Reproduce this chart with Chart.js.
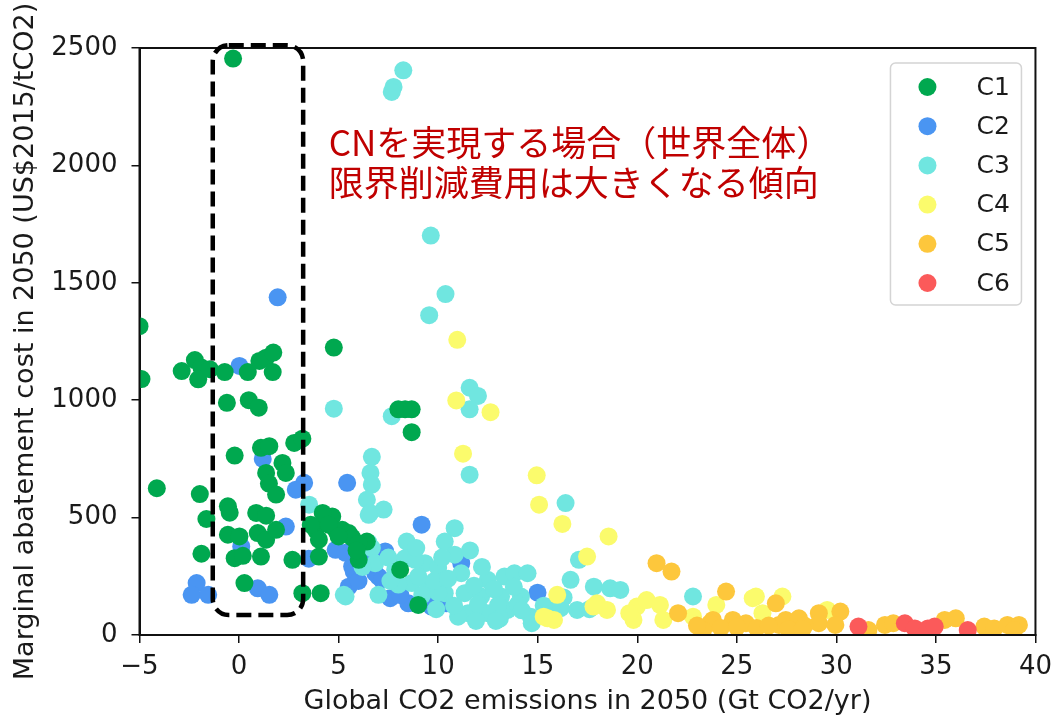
<!DOCTYPE html>
<html lang="ja">
<head>
<meta charset="UTF-8">
<title>限界削減費用とCO2排出量（2050年）</title>
<script src="https://cdn.jsdelivr.net/npm/chart.js"></script>
<style>
  html, body { margin: 0; padding: 0; background: #fff; }
</style>
</head>
<body>
<canvas id="myChart" width="1061" height="718"></canvas>
<script>
// Kategorien und Farben
const categories = ['C1', 'C2', 'C3', 'C4', 'C5', 'C6'];
const colors = ['#00a84f', '#4a95f2', '#70e6e0', '#fbfb6c', '#fdc73c', '#fb5a5a'];

// Achsen
const xTicks = [-5, 0, 5, 10, 15, 20, 25, 30, 35, 40];
const yTicks = [0, 500, 1000, 1500, 2000, 2500];

// Punkte [Emissionen Gt CO2/yr, Kosten US$/tCO2]
const c1Points = [
  [-0.3, 2455], [-5.0, 1315], [-4.9, 1090], [-2.88, 1124], [-2.22, 1171], [-1.89, 1139],
  [-2.05, 1089], [-1.47, 1132], [-0.72, 1120], [0.44, 1120], [1.02, 1167], [1.36, 1181],
  [1.72, 1203], [1.69, 1120], [4.76, 1224], [-0.61, 989], [0.49, 1000], [0.99, 968],
  [-0.22, 764], [1.1, 797], [1.52, 804], [2.77, 818], [3.18, 836], [1.36, 690], [2.18, 733],
  [1.5, 645], [2.35, 690], [1.86, 598], [-4.13, 625], [-1.97, 600], [-1.64, 494], [-0.56, 548],
  [-0.47, 521], [0.86, 520], [1.36, 508], [-0.56, 427], [0.02, 420], [0.94, 434], [1.36, 406],
  [1.86, 448], [-1.89, 346], [-0.22, 327], [0.19, 337], [1.1, 334], [2.68, 320], [4.01, 334],
  [0.27, 221], [3.18, 178], [4.1, 178], [3.85, 448], [4.35, 477], [4.68, 505], [4.85, 448],
  [5.18, 448], [5.51, 434], [5.68, 415], [4.01, 406], [6.42, 398], [6.01, 320], [4.2, 520],
  [8.09, 278], [9.0, 128], [8.0, 961], [8.34, 961], [8.67, 961], [8.67, 864],
  [4.5, 470], [5.0, 420], [6.0, 390], [3.6, 470], [5.9, 360]
];
const c2Points = [
  [1.94, 1438], [0.02, 1146], [1.19, 750], [3.27, 648], [5.43, 648], [2.85, 619], [2.35, 462],
  [0.11, 377], [-2.13, 221], [-2.38, 171], [-1.55, 171], [0.94, 199], [1.52, 171], [4.85, 363],
  [5.68, 292], [9.17, 470], [5.76, 270], [5.51, 206], [7.0, 249], [7.59, 157], [7.34, 356],
  [8.5, 135], [9.67, 121], [11.16, 306], [14.99, 180], [10.41, 135], [6.84, 263], [7.17, 235],
  [3.5, 325], [5.35, 350], [6.3, 330], [7.9, 300], [8.1, 170], [9.2, 150], [6.0, 230]
];
const c3Points = [
  [8.25, 2405], [7.76, 2334], [7.67, 2313], [9.63, 1701], [10.37, 1452], [9.55, 1362],
  [11.58, 1053], [12.0, 1018], [11.58, 961], [6.67, 759], [6.6, 690], [6.67, 640], [11.58, 683],
  [4.76, 964], [7.67, 932], [6.42, 576], [6.59, 520], [7.26, 534], [16.4, 562], [17.07, 320],
  [16.65, 235], [17.82, 206], [18.64, 199], [19.15, 192], [16.15, 114], [16.98, 107], [22.8, 164],
  [3.52, 555], [5.35, 164], [10.83, 455], [10.33, 398], [8.42, 398], [6.67, 370], [6.84, 306],
  [8.34, 327], [9.34, 306], [10.0, 285], [10.83, 342], [11.16, 263], [8.67, 221], [9.5, 206],
  [10.33, 178], [11.33, 178], [12.49, 235], [13.33, 249], [13.83, 263], [14.49, 263], [12.16, 164],
  [13.16, 164], [14.16, 164], [11.5, 93], [12.49, 93], [13.49, 107], [14.65, 78], [7.0, 171],
  [5.26, 171], [6.51, 392], [7.84, 278], [8.84, 320], [6.51, 512], [15.7, 121], [11.0, 78], [10.0, 180],
  [9.0, 250], [9.8, 230], [10.5, 240], [11.8, 210], [12.8, 195], [13.8, 205], [9.2, 170],
  [10.8, 125], [12.0, 130], [13.0, 125], [14.0, 130], [11.9, 60], [13.1, 70], [14.2, 105],
  [8.0, 215], [9.9, 110], [12.2, 290], [15.3, 125], [16.3, 160], [7.5, 330], [8.9, 370],
  [10.2, 330], [11.6, 360], [12.9, 60], [14.7, 50], [7.6, 230], [6.2, 290], [17.6, 110]
];
const c4Points = [
  [10.96, 1257], [10.91, 999], [12.63, 949], [11.25, 772], [14.95, 680], [15.07, 555], [16.24, 473],
  [18.56, 420], [17.48, 334], [15.98, 171], [17.98, 135], [18.48, 107], [15.82, 64], [19.98, 121],
  [20.47, 149], [21.14, 128], [19.81, 64], [21.31, 64], [22.8, 78], [23.97, 128], [25.8, 157],
  [27.29, 164], [26.29, 93], [25.96, 164], [29.54, 107], [15.5, 71], [17.8, 121], [19.6, 93], [15.3, 78]
];
const c5Points = [
  [20.97, 306], [21.72, 270], [22.05, 93], [24.46, 185], [23.8, 64], [24.8, 64], [25.46, 50],
  [26.96, 135], [27.46, 64], [23.65, 50], [27.79, 50], [27.12, 43], [28.12, 71], [29.12, 93],
  [30.2, 100], [29.12, 50], [29.95, 43], [31.61, 21], [32.44, 43], [32.86, 50], [35.44, 64],
  [36.0, 71], [37.43, 36], [37.93, 28], [38.59, 43], [39.17, 43], [38.92, 21], [26.0, 30],
  [28.4, 40], [24.2, 30], [23.3, 20], [23.0, 40], [25.0, 35], [26.6, 40], [27.6, 25], [28.3, 25]
];
const c6Points = [
  [31.11, 36], [33.44, 50], [33.94, 28], [34.6, 28], [34.94, 36], [36.6, 21]
];

// Hinweistext und gestrichelter Rahmen (in Datenkoordinaten)
const noteLines = ['CNを実現する場合（世界全体）', '限界削減費用は大きくなる傾向'];
const noteAt = { x: 4.5, y: [2095, 1925] };
const boxAt = { x0: -1.32, x1: 3.22, y0: 2512, y1: 85 };

const allPoints = [c1Points, c2Points, c3Points, c4Points, c5Points, c6Points];
const drawOrder = [0, 5, 4, 3, 2, 1]; // C1 oben, C2 unten

const datasets = categories.map((name, i) => ({
  label: name,
  data: allPoints[i].map(p => ({ x: p[0], y: p[1] })),
  backgroundColor: colors[i],
  borderWidth: 0,
  pointRadius: 9,
  pointHoverRadius: 9,
  order: drawOrder[i],
  clip: 0
}));

const tickFont = { family: 'DejaVu Sans', size: 26 };
const titleFont = { family: 'DejaVu Sans', size: 27 };

// Rahmen, Hinweis und Legende
const extrasPlugin = {
  id: 'extras',
  afterDatasetsDraw(chart) {
    const ctx = chart.ctx;
    const a = chart.chartArea;
    const xs = chart.scales.x, ys = chart.scales.y;
    ctx.save();

    // oberer und rechter Rand
    ctx.strokeStyle = '#111';
    ctx.lineWidth = 2;
    ctx.strokeRect(a.left, a.top, a.right - a.left, a.bottom - a.top);

    // gestrichelter Rahmen
    const bx0 = xs.getPixelForValue(boxAt.x0), bx1 = xs.getPixelForValue(boxAt.x1);
    const by0 = ys.getPixelForValue(boxAt.y0), by1 = ys.getPixelForValue(boxAt.y1);
    ctx.setLineDash([15, 7]);
    ctx.lineWidth = 4.5;
    ctx.strokeStyle = '#000';
    ctx.beginPath();
    ctx.roundRect(bx0, by0, bx1 - bx0, by1 - by0, 16);
    ctx.stroke();
    ctx.setLineDash([]);

    // Hinweistext
    ctx.fillStyle = '#c00000';
    ctx.font = '35px "Noto Sans CJK JP"';
    ctx.textBaseline = 'middle';
    ctx.textAlign = 'left';
    noteLines.forEach((t, i) => {
      ctx.fillText(t, xs.getPixelForValue(noteAt.x), ys.getPixelForValue(noteAt.y[i]));
    });

    // Legende
    const lw = 131, lh = 242;
    const lx = a.right - 14 - lw, ly = a.top + 15;
    ctx.fillStyle = 'rgba(255,255,255,0.85)';
    ctx.strokeStyle = '#d4d4d4';
    ctx.lineWidth = 1.5;
    ctx.beginPath();
    ctx.roundRect(lx, ly, lw, lh, 5);
    ctx.fill();
    ctx.stroke();
    ctx.font = '25px "DejaVu Sans"';
    ctx.textBaseline = 'middle';
    chart.data.datasets.forEach((ds, i) => {
      const cy = ly + 24 + i * 39.2;
      ctx.fillStyle = ds.backgroundColor;
      ctx.beginPath();
      ctx.arc(lx + 37, cy, 9, 0, Math.PI * 2);
      ctx.fill();
      ctx.fillStyle = '#1a1a1a';
      ctx.fillText(ds.label, lx + 86, cy + 1);
    });
    ctx.restore();
  }
};

const ctx = document.getElementById('myChart').getContext('2d');
const myChart = new Chart(ctx, {
  type: 'scatter',
  data: { datasets: datasets },
  options: {
    responsive: false,
    animation: false,
    devicePixelRatio: 1,
    layout: { padding: { top: 48, right: 19, left: 0, bottom: 0 } },
    plugins: {
      legend: { display: false },
      tooltip: { enabled: false }
    },
    scales: {
      x: {
        type: 'linear',
        min: xTicks[0],
        max: xTicks[xTicks.length - 1],
        afterFit(scale) { scale.height = 83; },
        afterBuildTicks(scale) { scale.ticks = xTicks.map(v => ({ value: v })); },
        ticks: {
          font: tickFont,
          color: '#1a1a1a',
          padding: 9,
          maxRotation: 0,
          callback: v => (v < 0 ? '\u2212' + Math.abs(v) : String(v))
        },
        grid: { drawOnChartArea: false, drawTicks: true, tickLength: 8, color: '#111', lineWidth: 1.5 },
        border: { display: true, color: '#111', width: 2 },
        title: {
          display: true,
          text: 'Global CO2 emissions in 2050 (Gt CO2/yr)',
          font: titleFont,
          color: '#1a1a1a',
          padding: { top: 1, bottom: 0 }
        }
      },
      y: {
        type: 'linear',
        min: yTicks[0],
        max: yTicks[yTicks.length - 1],
        afterFit(scale) { scale.width = 139.5; },
        afterBuildTicks(scale) { scale.ticks = yTicks.map(v => ({ value: v })); },
        ticks: {
          font: tickFont,
          color: '#1a1a1a',
          padding: 14,
          callback: v => String(v)
        },
        grid: { drawOnChartArea: false, drawTicks: true, tickLength: 8, color: '#111', lineWidth: 1.5 },
        border: { display: true, color: '#111', width: 2 },
        title: {
          display: true,
          text: 'Marginal abatement cost in 2050 (US$2015/tCO2)',
          font: titleFont,
          color: '#1a1a1a',
          padding: { top: 10, bottom: 0 }
        }
      }
    }
  },
  plugins: [extrasPlugin]
});
</script>
</body>
</html>
